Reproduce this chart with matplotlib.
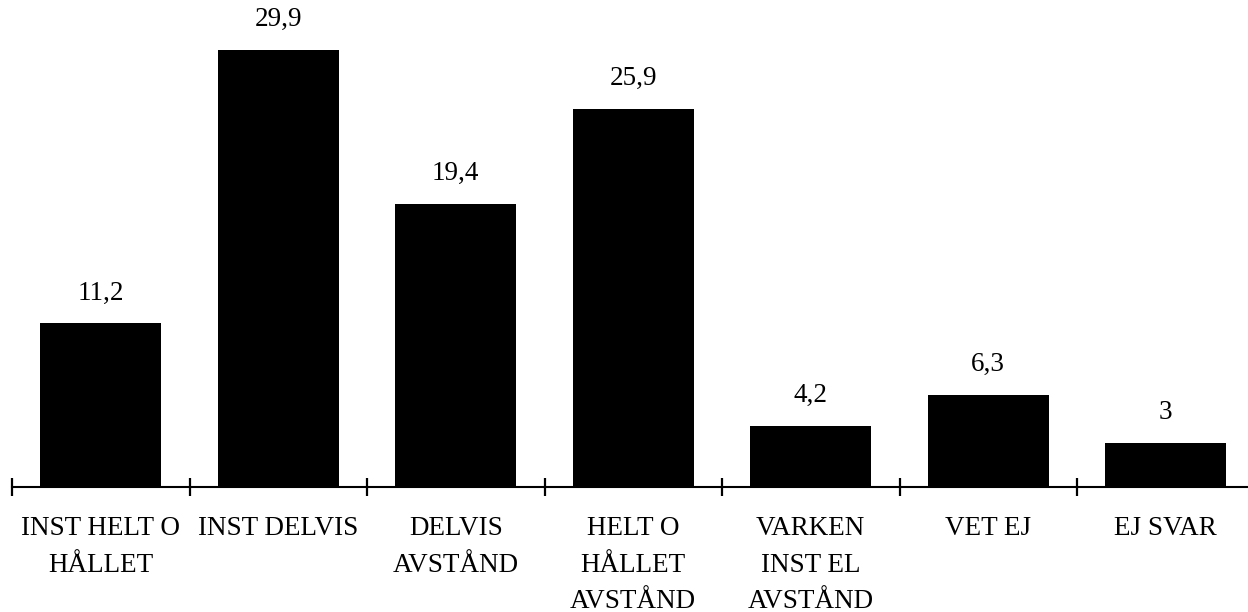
import matplotlib
matplotlib.use("Agg")
import matplotlib.pyplot as plt
import numpy as np

categories = ["INST HELT O\nHÅLLET", "INST DELVIS", "DELVIS\nAVSTÅND",
              "HELT O\nHÅLLET\nAVSTÅND", "VARKEN\nINST EL\nAVSTÅND",
              "VET EJ", "EJ SVAR"]
values = [11.2, 29.9, 19.4, 25.9, 4.2, 6.3, 3.0]
value_labels = ["11,2", "29,9", "19,4", "25,9", "4,2", "6,3", "3"]

plt.rcParams['font.family'] = ['Liberation Serif', 'DejaVu Serif']

W, H = 1248, 612
fig = plt.figure(figsize=(W / 100, H / 100), dpi=100)
base_px = 487          # baseline from top
ppu = 14.6             # pixels per unit
step = 177.5           # pixels per category
left_px = 12           # first boundary

ax = fig.add_axes([0, (H - base_px) / H, 1, base_px / H])
x = np.arange(len(categories))
ax.bar(x, values, width=0.68, color='black')

xmin = -0.5 - left_px / step
xmax = -0.5 + (W - left_px) / step
ax.set_xlim(xmin, xmax)
ax.set_ylim(0, base_px / ppu)

for s in ['top', 'right', 'left']:
    ax.spines[s].set_visible(False)
ax.spines['bottom'].set_bounds(-0.5, xmax)
ax.spines['bottom'].set_linewidth(1.5)
ax.set_yticks([])

ax.set_xticks(np.arange(len(categories)) - 0.5)
ax.set_xticklabels([])
ax.tick_params(axis='x', which='major', direction='inout', length=13, width=1.6)
ax.set_xticks(x, minor=True)
ax.set_xticklabels(categories, minor=True, fontsize=19.5, linespacing=1.6)
ax.tick_params(axis='x', which='minor', length=0, pad=21)

for xi, v, lab in zip(x, values, value_labels):
    ax.annotate(lab, (xi, v), xytext=(0, 22), textcoords='offset points',
                ha='center', va='center', fontsize=19.5)

fig.savefig("out.png", dpi=100)
